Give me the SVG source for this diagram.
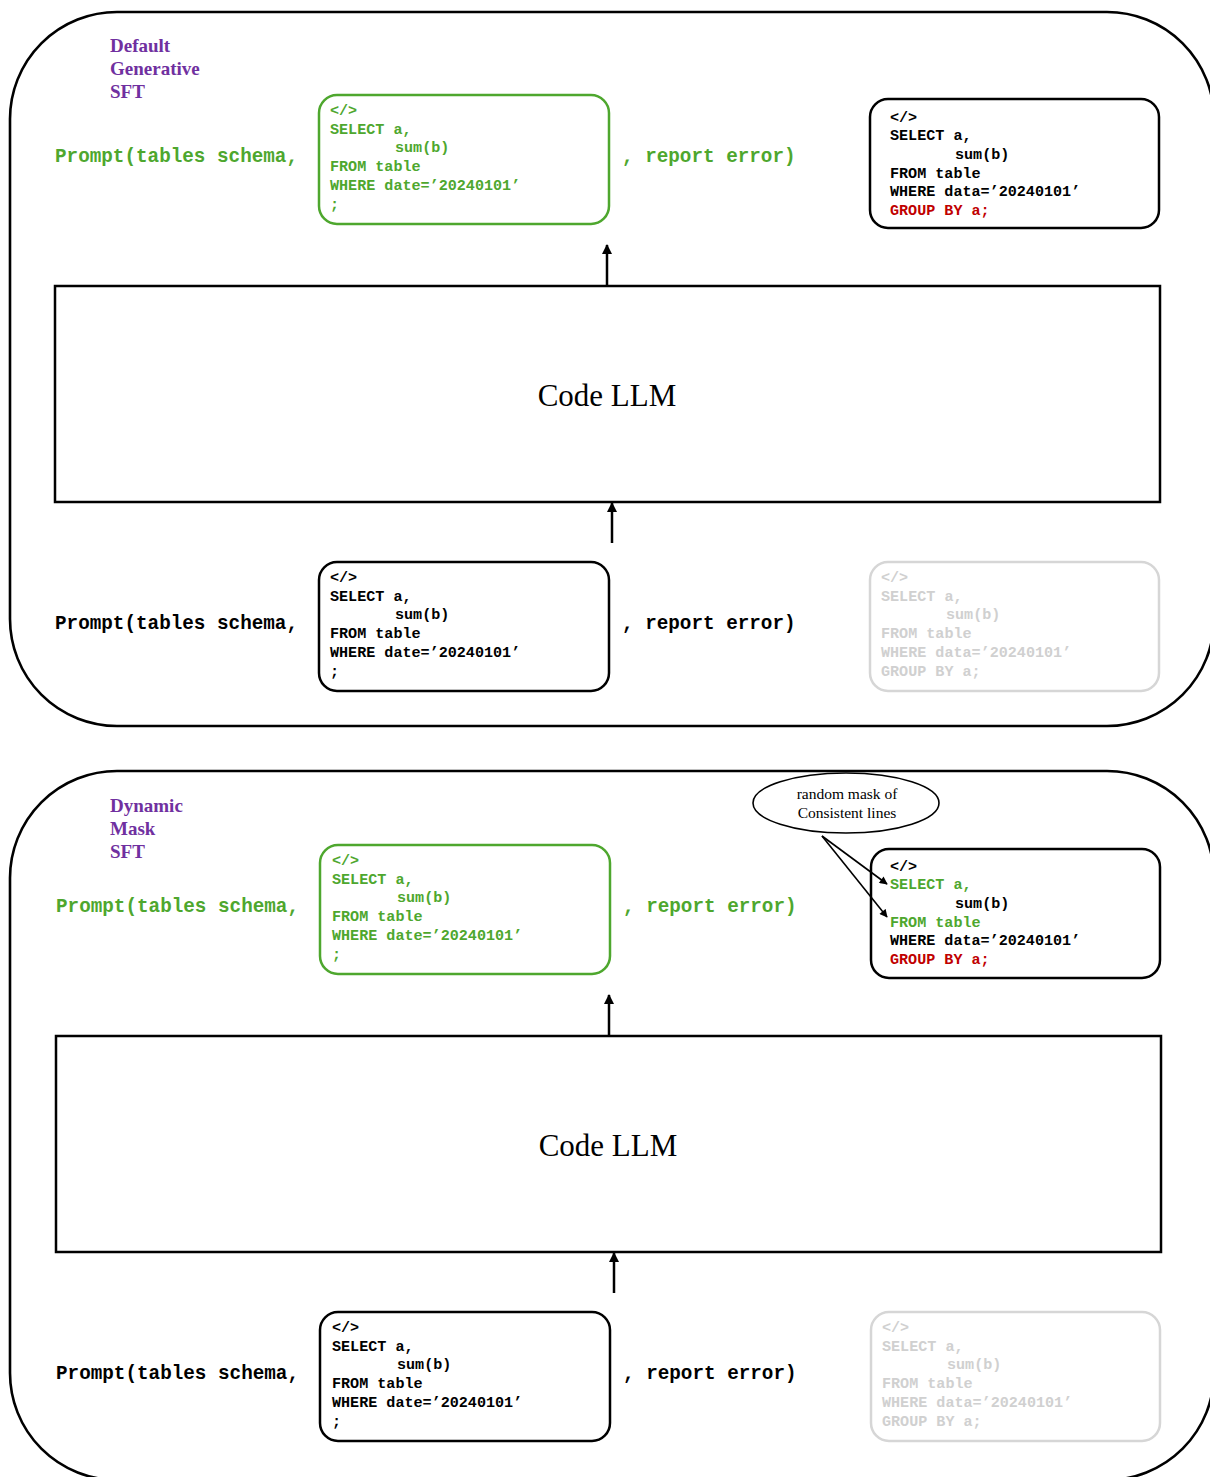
<svg xmlns="http://www.w3.org/2000/svg" width="1210" height="1477" viewBox="0 0 1210 1477">
  <style>
    .frame { fill: none; stroke: #000; stroke-width: 2.6; }
    .llm { fill: #fff; stroke: #000; stroke-width: 2.5; }
    .box { fill: #fff; stroke-width: 2.5; }
    .box-green { stroke: #4ea72e; }
    .box-black { stroke: #000; }
    .box-gray { stroke: #d6d6d6; }
    .code { font-family: "Liberation Mono", "Courier New", monospace; font-weight: bold; font-size: 15.1px; }
    .prompt { font-family: "Liberation Mono", "Courier New", monospace; font-weight: bold; font-size: 19.3px; }
    .title { font-family: "Liberation Serif", "Times New Roman", serif; font-weight: bold; font-size: 19px; fill: #7030a0; }
    .llm-label { font-family: "Liberation Serif", "Times New Roman", serif; font-size: 31px; fill: #000; }
    .note { font-family: "Liberation Serif", "Times New Roman", serif; font-size: 15.5px; fill: #000; }
    .green { fill: #4ea72e; }
    .black { fill: #000; }
    .red { fill: #c00000; }
    .gray { fill: #d0d0d0; }
    .conn { stroke: #000; stroke-width: 2.5; fill: none; }
    .thin { stroke: #000; stroke-width: 1.6; fill: none; }
  </style>
  <defs>
    <marker id="arrow" viewBox="0 0 10 10" refX="9" refY="5" markerWidth="4" markerHeight="4.4" orient="auto" markerUnits="strokeWidth">
      <path d="M0,0 L10,5 L0,10 z" fill="#000"/>
    </marker>
    <marker id="arrow-sm" viewBox="0 0 10 10" refX="9" refY="5" markerWidth="6" markerHeight="5" orient="auto" markerUnits="strokeWidth">
      <path d="M0,0 L10,5 L0,10 z" fill="#000"/>
    </marker>
  </defs>

  <!-- ===== Panel 1: Default Generative SFT ===== -->
  <g id="panel-default">
    <rect class="frame" x="10" y="12" width="1204" height="714" rx="107" ry="107"/>
    <text class="title" x="110" y="52">Default</text>
    <text class="title" x="110" y="75">Generative</text>
    <text class="title" x="110" y="98">SFT</text>
  </g>

  <g id="p1-target-prompt">
    <text class="prompt green" x="55" y="162">Prompt(tables schema,</text>
    <text class="prompt green" x="622" y="162">, report error)</text>
  </g>

  <g id="p1-target-code">
    <rect class="box box-green" x="319" y="95" width="290" height="129" rx="18"/>
    <text class="code green">
      <tspan x="330" y="115">&lt;/&gt;</tspan>
      <tspan x="330" y="133.7">SELECT a,</tspan>
      <tspan x="395" y="152.4">sum(b)</tspan>
      <tspan x="330" y="171.1">FROM table</tspan>
      <tspan x="330" y="189.8">WHERE date=’20240101’</tspan>
      <tspan x="330" y="208.5">;</tspan>
    </text>
  </g>

  <g id="p1-reference-code">
    <rect class="box box-black" x="870" y="99" width="289" height="129" rx="18"/>
    <text class="code black">
      <tspan x="890" y="121.5">&lt;/&gt;</tspan>
      <tspan x="890" y="140.2">SELECT a,</tspan>
      <tspan x="955" y="158.9">sum(b)</tspan>
      <tspan x="890" y="177.6">FROM table</tspan>
      <tspan x="890" y="196.3">WHERE data=’20240101’</tspan>
      <tspan class="red" x="890" y="215">GROUP BY a;</tspan>
    </text>
  </g>

  <g id="p1-llm">
    <rect class="llm" x="55" y="286" width="1105" height="216"/>
    <text class="llm-label" x="607" y="406" text-anchor="middle">Code LLM</text>
  </g>

  <g id="p1-input-prompt">
    <text class="prompt black" x="55" y="629">Prompt(tables schema,</text>
    <text class="prompt black" x="622" y="629">, report error)</text>
  </g>

  <g id="p1-input-code">
    <rect class="box box-black" x="319" y="562" width="290" height="129" rx="18"/>
    <text class="code black">
      <tspan x="330" y="582">&lt;/&gt;</tspan>
      <tspan x="330" y="600.7">SELECT a,</tspan>
      <tspan x="395" y="619.4">sum(b)</tspan>
      <tspan x="330" y="638.1">FROM table</tspan>
      <tspan x="330" y="656.8">WHERE date=’20240101’</tspan>
      <tspan x="330" y="675.5">;</tspan>
    </text>
  </g>

  <g id="p1-hidden-code">
    <rect class="box box-gray" x="870" y="562" width="289" height="129" rx="18"/>
    <text class="code gray">
      <tspan x="881" y="582">&lt;/&gt;</tspan>
      <tspan x="881" y="600.7">SELECT a,</tspan>
      <tspan x="946" y="619.4">sum(b)</tspan>
      <tspan x="881" y="638.1">FROM table</tspan>
      <tspan x="881" y="656.8">WHERE data=’20240101’</tspan>
      <tspan x="881" y="675.5">GROUP BY a;</tspan>
    </text>
  </g>

  <!-- ===== Panel 2: Dynamic Mask SFT ===== -->
  <g id="panel-dynamic">
    <rect class="frame" x="10" y="771" width="1204" height="709" rx="107" ry="107"/>
    <text class="title" x="110" y="812">Dynamic</text>
    <text class="title" x="110" y="835">Mask</text>
    <text class="title" x="110" y="858">SFT</text>
  </g>

  <g id="p2-target-prompt">
    <text class="prompt green" x="56" y="912">Prompt(tables schema,</text>
    <text class="prompt green" x="623" y="912">, report error)</text>
  </g>

  <g id="p2-target-code">
    <rect class="box box-green" x="320" y="845" width="290" height="129" rx="18"/>
    <text class="code green">
      <tspan x="332" y="865">&lt;/&gt;</tspan>
      <tspan x="332" y="883.7">SELECT a,</tspan>
      <tspan x="397" y="902.4">sum(b)</tspan>
      <tspan x="332" y="921.1">FROM table</tspan>
      <tspan x="332" y="939.8">WHERE date=’20240101’</tspan>
      <tspan x="332" y="958.5">;</tspan>
    </text>
  </g>

  <g id="p2-reference-code">
    <rect class="box box-black" x="871" y="849" width="289" height="129" rx="18"/>
    <text class="code black">
      <tspan x="890" y="870.5">&lt;/&gt;</tspan>
      <tspan class="green" x="890" y="889.2">SELECT a,</tspan>
      <tspan x="955" y="907.9">sum(b)</tspan>
      <tspan class="green" x="890" y="926.6">FROM table</tspan>
      <tspan x="890" y="945.3">WHERE data=’20240101’</tspan>
      <tspan class="red" x="890" y="964">GROUP BY a;</tspan>
    </text>
  </g>

  <g id="p2-mask-note">
    <ellipse cx="846" cy="803" rx="93" ry="30" fill="#fff" stroke="#000" stroke-width="1.6"/>
    <text class="note" x="847" y="799" text-anchor="middle">random mask of</text>
    <text class="note" x="847" y="818" text-anchor="middle">Consistent lines</text>
  </g>

  <g id="p2-llm">
    <rect class="llm" x="56" y="1036" width="1105" height="216"/>
    <text class="llm-label" x="608" y="1156" text-anchor="middle">Code LLM</text>
  </g>

  <g id="p2-input-prompt">
    <text class="prompt black" x="56" y="1379">Prompt(tables schema,</text>
    <text class="prompt black" x="623" y="1379">, report error)</text>
  </g>

  <g id="p2-input-code">
    <rect class="box box-black" x="320" y="1312" width="290" height="129" rx="18"/>
    <text class="code black">
      <tspan x="332" y="1332">&lt;/&gt;</tspan>
      <tspan x="332" y="1350.7">SELECT a,</tspan>
      <tspan x="397" y="1369.4">sum(b)</tspan>
      <tspan x="332" y="1388.1">FROM table</tspan>
      <tspan x="332" y="1406.8">WHERE date=’20240101’</tspan>
      <tspan x="332" y="1425.5">;</tspan>
    </text>
  </g>

  <g id="p2-hidden-code">
    <rect class="box box-gray" x="871" y="1312" width="289" height="129" rx="18"/>
    <text class="code gray">
      <tspan x="882" y="1332">&lt;/&gt;</tspan>
      <tspan x="882" y="1350.7">SELECT a,</tspan>
      <tspan x="947" y="1369.4">sum(b)</tspan>
      <tspan x="882" y="1388.1">FROM table</tspan>
      <tspan x="882" y="1406.8">WHERE data=’20240101’</tspan>
      <tspan x="882" y="1425.5">GROUP BY a;</tspan>
    </text>
  </g>

  <!-- connectors -->
  <g id="connectors">
    <line class="conn" x1="607" y1="285" x2="607" y2="245" marker-end="url(#arrow)"/>
    <line class="conn" x1="612" y1="543" x2="612" y2="503" marker-end="url(#arrow)"/>
    <line class="conn" x1="609" y1="1035" x2="609" y2="995" marker-end="url(#arrow)"/>
    <line class="conn" x1="614" y1="1293" x2="614" y2="1253" marker-end="url(#arrow)"/>
    <line class="thin" x1="822" y1="836" x2="887" y2="884" marker-end="url(#arrow-sm)"/>
    <line class="thin" x1="822" y1="836" x2="887" y2="917" marker-end="url(#arrow-sm)"/>
  </g>
</svg>
